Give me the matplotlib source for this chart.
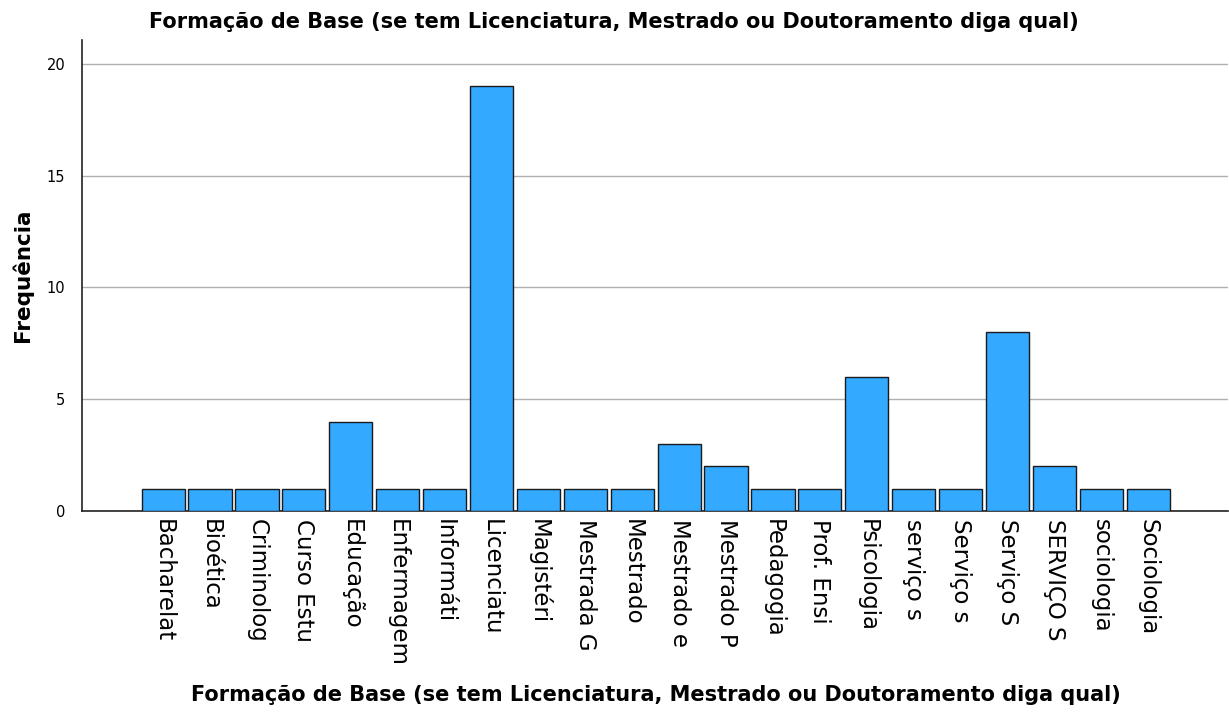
import matplotlib
matplotlib.use("Agg")
import matplotlib.pyplot as plt

categories = ["Bacharelat", "Bioética", "Criminolog", "Curso Estu", "Educação", "Enfermagem",
              "Informáti", "Licenciatu", "Magistéri", "Mestrada G", "Mestrado", "Mestrado e",
              "Mestrado P", "Pedagogia", "Prof. Ensi", "Psicologia", "serviço s", "Serviço s",
              "Serviço S", "SERVIÇO S", "sociologia", "Sociologia"]
counts = [1, 1, 1, 1, 4, 1, 1, 19, 1, 1, 1, 3, 2, 1, 1, 6, 1, 1, 8, 2, 1, 1]
yticks = [0, 5, 10, 15, 20]

title = "Formação de Base (se tem Licenciatura, Mestrado ou Doutoramento diga qual)"

plt.rcParams['font.family'] = ['DejaVu Sans']

fig = plt.figure(figsize=(12.29, 7.13), dpi=100)
ax = fig.add_axes([82/1229, 1 - 511/713, (1228-82)/1229, (511-40)/713])

x = list(range(len(categories)))
ax.bar(x, counts, width=0.92, color="#33AAFF", edgecolor="#1a1a1a", linewidth=1.0, zorder=3)

ax.set_xlim(-1.73, len(categories) - 1 + 1.7)
ax.set_ylim(0, 21.07)
ax.set_yticks(yticks)
ax.set_yticklabels([str(v) for v in yticks], fontsize=10.5)
ax.yaxis.grid(True, color="#b0b0b0", linewidth=1.0, zorder=0)
ax.set_axisbelow(True)
ax.set_xticks(x)
ax.set_xticklabels(categories, rotation=270, fontsize=16.5, va="top", ha="center")
ax.tick_params(axis="both", length=0)
ax.tick_params(axis="x", pad=6)
ax.tick_params(axis="y", pad=12)
for s in ["top", "right"]:
    ax.spines[s].set_visible(False)
ax.spines["left"].set_color("#222222")
ax.spines["bottom"].set_color("#222222")
ax.spines["left"].set_linewidth(1.2)
ax.spines["bottom"].set_linewidth(1.2)

fig.text(22/1229, 1 - 275/713, "Frequência", fontsize=15.5, fontweight="bold",
         rotation=90, ha="center", va="center")
fig.text(614/1229, 1 - 22/713, title, fontsize=15, fontweight="bold", ha="center", va="center")
fig.text(656/1229, 1 - 695/713, title, fontsize=15, fontweight="bold", ha="center", va="center")

fig.savefig("out.png", dpi=100)
